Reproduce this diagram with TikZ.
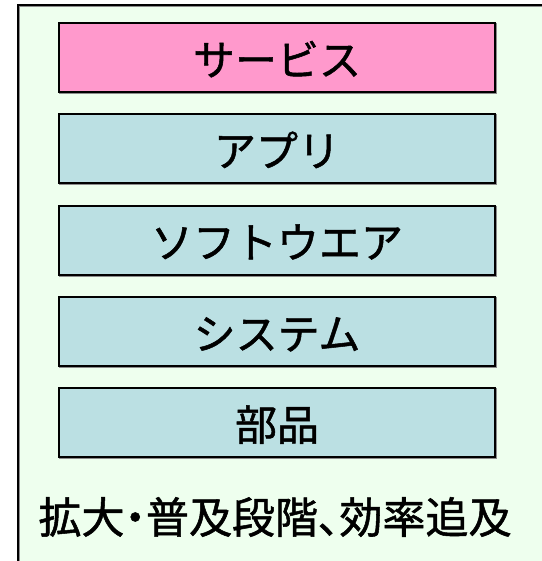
\documentclass[tikz,border=0pt]{standalone}
\usepackage{fontspec}
\setmainfont{Noto Sans CJK JP}[FakeBold=1.2]
\newfontfamily\capfont{Noto Sans CJK JP}[FakeBold=1.2, RawFeature=+palt]
\definecolor{outerfill}{RGB}{238,255,238}
\definecolor{pinkfill}{RGB}{255,153,204}
\definecolor{bluefill}{RGB}{187,224,227}
\definecolor{shadowgrey}{RGB}{140,140,140}
\tikzset{
  layer/.style={draw=black, line width=2pt, minimum width=436pt, minimum height=69pt,
    inner sep=0pt, font=\fontsize{42}{42}\selectfont, anchor=center,
    text depth=0pt, text height=36pt},
  shadowed/.style={preaction={draw=shadowgrey, line width=2pt, transform canvas={shift={(1pt,-1pt)}}}}
}
\begin{document}
\begin{tikzpicture}[x=1pt,y=-1pt]
\useasboundingbox (0,0) rectangle (541,561);
\fill[white] (0,0) rectangle (541,561);
\fill[outerfill] (18,5) rectangle (545,565);
\draw[shadowgrey, line width=2pt] (19,566) -- (19,6) -- (545,6);
\draw[black, line width=2pt] (18,566) -- (18,5) -- (545,5);
\node[layer, shadowed, fill=pinkfill] (svc) at (277,57.5) {サービス};
\node[layer, shadowed, fill=bluefill] (app) at (277,148.5) {アプリ};
\node[layer, shadowed, fill=bluefill] (sw) at (277,240) {ソフトウエア};
\node[layer, shadowed, fill=bluefill] (sys) at (277,331.5) {システム};
\node[layer, shadowed, fill=bluefill] (part) at (277,422.5) {部品};
\node[font=\capfont\fontsize{43}{43}\selectfont, inner sep=0pt] (cap) at (275,517) {拡大・普及段階、効率追及};
\end{tikzpicture}
\end{document}
